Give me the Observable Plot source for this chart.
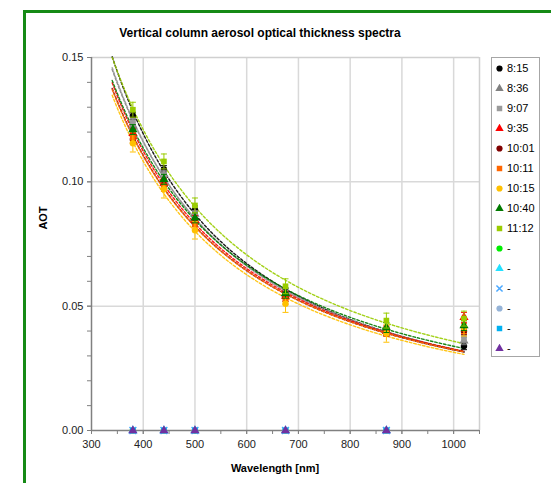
<!DOCTYPE html>
<html><head><meta charset="utf-8">
<script src="https://cdn.jsdelivr.net/npm/d3@7"></script>
<script src="https://cdn.jsdelivr.net/npm/@observablehq/plot@0.6"></script>
<style>
body{margin:0;background:#fff;font-family:"Liberation Sans",Arial,sans-serif;}
#wrap{position:relative;width:551px;height:483px;overflow:hidden;background:#fff;}
#frame{position:absolute;left:23px;top:10px;width:620px;height:600px;border:3px solid #168a16;box-sizing:border-box;}
#title{position:absolute;left:0;width:520px;top:26px;text-align:center;font-weight:bold;font-size:12px;color:#000;}
#ylab{position:absolute;left:43px;top:218px;transform:translate(-50%,-50%) rotate(-90deg);font-weight:bold;font-size:11px;}
#xlab{position:absolute;left:275px;top:468px;transform:translate(-50%,-50%);font-weight:bold;font-size:11px;white-space:nowrap;}
#chart{position:absolute;left:0;top:0;}
#legend{position:absolute;left:491px;top:57px;width:49px;height:300px;border:1px solid #a6a6a6;box-sizing:border-box;background:#fff;}
.li{position:absolute;left:3px;height:20px;display:flex;align-items:center;font-size:11px;}
.li svg{margin-right:3px;}
</style>
</head><body>
<div id="wrap">
  <div id="frame"></div>
  <div id="chart"></div>
  <div id="title">Vertical column aerosol optical thickness spectra</div>
  <div id="ylab">AOT</div>
  <div id="xlab">Wavelength [nm]</div>
  <div id="legend"></div>
</div>
<script>
// ---- data ----
const wavelengths = [380, 440, 500, 675, 870, 1020];
const seriesNames = ["8:15","8:36","9:07","9:35","10:01","10:11","10:15","10:40","11:12","-","-","-","-","-","-"];
const aot_0815 = [0.1265, 0.1050, 0.0888, 0.0558, 0.0398, 0.0340];
const aot_0836 = [0.1225, 0.1030, 0.0870, 0.0550, 0.0400, 0.0360];
const aot_0907 = [0.1240, 0.1025, 0.0865, 0.0548, 0.0398, 0.0372];
const aot_0935 = [0.1195, 0.0995, 0.0845, 0.0540, 0.0400, 0.0455];
const aot_1001 = [0.1170, 0.0985, 0.0835, 0.0535, 0.0395, 0.0400];
const aot_1011 = [0.1178, 0.0982, 0.0828, 0.0528, 0.0400, 0.0410];
const aot_1015 = [0.1155, 0.0970, 0.0805, 0.0510, 0.0390, 0.0415];
const aot_1040 = [0.1210, 0.1010, 0.0855, 0.0552, 0.0414, 0.0422];
const aot_1112 = [0.1290, 0.1082, 0.0905, 0.0580, 0.0442, 0.0450];
const aot_empty = [0, 0, 0, 0, 0, null];
const errorBars = [0.0015, 0.0015, 0.0015, 0.002, 0.0015, 0.002, 0.0035, 0.002, 0.003];
const fitChannels = [380, 440, 500, 675, 870];   // trendline fitted on these
const fitRange = [340, 1020];
const xTicks = [300, 400, 500, 600, 700, 800, 900, 1000];
const yTicks = [0, 0.05, 0.10, 0.15];

const seriesValues = [aot_0815, aot_0836, aot_0907, aot_0935, aot_1001, aot_1011, aot_1015, aot_1040, aot_1112,
  aot_empty, aot_empty, aot_empty, aot_empty, aot_empty, aot_empty];
const colors = ["#000000","#808080","#9a9a9a","#ff0000","#800000","#ff6600","#ffc000","#007a00","#99cc00",
  "#00ee00","#22e0ff","#4aa8ff","#95b3d7","#00b0f0","#7030a0"];
const symbols = ["circle","triangle","square","triangle","circle","square","circle","triangle","square",
  "circle","triangle","times","circle","square","triangle"];

// long table
const rows = [];
seriesValues.forEach((vals, s) => vals.forEach((v, i) => {
  if (v != null) rows.push({s, wl: wavelengths[i], aot: v, err: s < 9 ? errorBars[s] : 0});
}));

// power-law trendlines (least squares in log-log space, like the spreadsheet trendline)
const curves = [];
for (let s = 0; s < 9; s++) {
  const pts = fitChannels.map(w => [Math.log(w), Math.log(seriesValues[s][wavelengths.indexOf(w)])]);
  const mx = d3.mean(pts, p => p[0]), my = d3.mean(pts, p => p[1]);
  const b = d3.sum(pts, p => (p[0]-mx)*(p[1]-my)) / d3.sum(pts, p => (p[0]-mx)**2);
  const a = my - b*mx;
  for (let w = fitRange[0]; w <= fitRange[1]; w += 5) curves.push({s, wl: w, aot: Math.exp(a + b*Math.log(w))});
}

const cap = {draw(ctx){ ctx.moveTo(-3,0); ctx.lineTo(3,0); }};

const marks = [
  Plot.gridX(xTicks.slice(1), {stroke:"#d9d9d9", strokeOpacity:1, strokeWidth:1.5}),
  Plot.gridY([0.05, 0.10], {stroke:"#d9d9d9", strokeOpacity:1, strokeWidth:1.5}),
  Plot.ruleY([0.15], {stroke:"#d0d0d0", strokeWidth:1.5}),
  Plot.ruleX([1050], {stroke:"#d0d0d0", strokeWidth:1.5}),
  Plot.axisX(d3.range(300, 1051, 50), {tickSize:4, text:null, label:null, stroke:"#808080", strokeOpacity:1}),
  Plot.axisX(xTicks, {tickSize:4, tickPadding:6, tickFormat: d => String(d), stroke:"#808080", strokeOpacity:1, label:null, fill:"#222", fontSize:11}),
  Plot.axisY(d3.range(0, 0.1501, 0.01), {tickSize:4, text:null, label:null, stroke:"#808080", strokeOpacity:1}),
  Plot.axisY(yTicks, {tickSize:4, tickPadding:4, tickFormat: d3.format(".2f"), stroke:"#808080", strokeOpacity:1, label:null, fill:"#222", fontSize:11}),
  Plot.ruleX([300], {stroke:"#808080", strokeWidth:1.5}),
  Plot.ruleY([0], {stroke:"#808080", strokeWidth:1.5})
];
for (let s = 0; s < 9; s++) {
  marks.push(Plot.line(curves.filter(d => d.s === s), {x:"wl", y:"aot", stroke: colors[s], strokeWidth:1.4, strokeDasharray:"2.5,2", strokeOpacity:0.9}));
}
for (let s = 0; s < 15; s++) {
  const d = rows.filter(r => r.s === s);
  if (s < 9) {
    marks.push(Plot.ruleX(d, {x:"wl", y1: r => r.aot - r.err, y2: r => r.aot + r.err, stroke: colors[s], strokeWidth:1}));
    marks.push(Plot.dot(d, {x:"wl", y: r => r.aot - r.err, symbol: cap, stroke: colors[s], fill:"none", strokeWidth:1}));
    marks.push(Plot.dot(d, {x:"wl", y: r => r.aot + r.err, symbol: cap, stroke: colors[s], fill:"none", strokeWidth:1}));
  }
  const sym = symbols[s];
  if (sym === "times") {
    marks.push(Plot.dot(d, {x:"wl", y:"aot", symbol:"times", r:3.2, stroke: colors[s], strokeWidth:1.5}));
  } else {
    marks.push(Plot.dot(d, {x:"wl", y:"aot", symbol: sym, r: sym === "triangle" ? 3.4 : 3.2, fill: colors[s], stroke:"none"}));
  }
}

const chart = Plot.plot({
  width: 551, height: 483,
  marginLeft: 91, marginRight: 72, marginTop: 57, marginBottom: 53,
  x: {domain: [300, 1050], label: null},
  y: {domain: [0, 0.15], label: null},
  style: {fontFamily: "'Liberation Sans', Arial, sans-serif", fontSize: "11px", background: "transparent", color:"#222", overflow:"visible"},
  marks
});
document.getElementById("chart").appendChild(chart);

// legend
const legend = d3.select("#legend");
seriesNames.forEach((name, s) => {
  const item = legend.append("div").attr("class", "li").style("top", (s*20) + "px");
  const svg = item.append("svg").attr("width", 9).attr("height", 9);
  const sym = symbols[s];
  const type = {circle: d3.symbolCircle, triangle: d3.symbolTriangle, square: d3.symbolSquare, times: d3.symbolTimes}[sym];
  const p = svg.append("path").attr("transform", "translate(4.5,4.5)")
    .attr("d", d3.symbol(type, sym === "times" ? 26 : 30)());
  if (sym === "times") p.attr("fill", "none").attr("stroke", colors[s]).attr("stroke-width", 1.5);
  else p.attr("fill", colors[s]);
  item.append("span").text(name);
});
</script>
</body></html>
